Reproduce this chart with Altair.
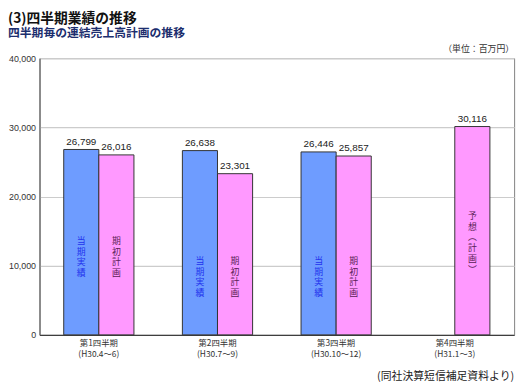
import altair as alt
import pandas as pd

# ---- data ----
quarters = ["第1四半期|(H30.4～6)", "第2四半期|(H30.7～9)",
            "第3四半期|(H30.10～12)", "第4四半期|(H31.1～3)"]
series = ["当期実績", "期初計画"]
actual = [26799, 26638, 26446, None]
plan = [26016, 23301, 25857, 30116]
actual_names = ["当期実績", "当期実績", "当期実績", None]
plan_names = ["期初計画", "期初計画", "期初計画", "予想︵計画︶"]
name_anchor = [13600, 10700, 10700, 17200]   # where the vertical bar captions sit (value units)
y_ticks = [0, 10000, 20000, 30000, 40000]

title1 = "(3)四半期業績の推移"
title2 = "四半期毎の連結売上高計画の推移"
unit_note = "（単位：百万円）"
source_note = "(同社決算短信補足資料より)"

rows = []
for i, q in enumerate(quarters):
    for s, vals, names in ((series[0], actual, actual_names), (series[1], plan, plan_names)):
        if vals[i] is None:
            continue
        rows.append({"q": q, "s": s, "v": vals[i],
                     "name": "\n".join(names[i]), "at": name_anchor[i]})
df = pd.DataFrame(rows)

JP = "Noto Sans CJK JP"
NUM = "Liberation Sans"
W, H = 482, 281

x_enc = alt.X("q:N", sort=quarters,
              scale=alt.Scale(paddingInner=0, paddingOuter=0),
              axis=alt.Axis(title=None, labelExpr="split(datum.label, '|')",
                            labelAngle=0, labelFont=JP, labelFontSize=8.5,
                            labelColor="#333333", labelLineHeight=10.5,
                            labelPadding=4, ticks=False, domainColor="#222222",
                            domainWidth=1, grid=False))
xoff = alt.XOffset("s:N", sort=series,
                   scale=alt.Scale(paddingInner=0, paddingOuter=0.69))
y_scale = alt.Scale(domain=[0, 40000])

base = alt.Chart(df)

bars = base.mark_bar(stroke="#333333", strokeWidth=1).encode(
    x=x_enc, xOffset=xoff,
    y=alt.Y("v:Q", scale=y_scale,
            axis=alt.Axis(title=None, values=y_ticks, format=",.0f",
                          labelFont=NUM, labelFontSize=9, labelColor="#333333",
                          labelPadding=4, ticks=False, domainColor="#555555",
                          gridColor="#cccccc", gridWidth=1.2)),
    color=alt.Color("s:N", scale=alt.Scale(domain=series, range=["#6E9CFF", "#FF99FF"]),
                    legend=None),
)

values = base.mark_text(baseline="bottom", dy=-3, font=NUM, fontSize=10,
                        color="#222222").encode(
    x=alt.X("q:N", sort=quarters), xOffset=xoff,
    y=alt.Y("v:Q", scale=y_scale),
    text=alt.Text("v:Q", format=",.0f"),
)

cap_actual = base.transform_filter(alt.datum.s == series[0]).mark_text(
    lineBreak="\n", lineHeight=11, font=JP, fontSize=9, color="#2233EE",
    baseline="middle").encode(
    x=alt.X("q:N", sort=quarters), xOffset=xoff,
    y=alt.Y("at:Q", scale=y_scale), text="name:N")

cap_plan = base.transform_filter(alt.datum.s == series[1]).mark_text(
    lineBreak="\n", lineHeight=11, font=JP, fontSize=9, color="#5A1E55",
    baseline="middle").encode(
    x=alt.X("q:N", sort=quarters), xOffset=xoff,
    y=alt.Y("at:Q", scale=y_scale), text="name:N")

one = pd.DataFrame({"k": [0]})
t1 = alt.Chart(one).mark_text(text=title1, font=JP, fontSize=14, fontWeight="bold",
                              color="#111111", align="left", baseline="middle").encode(
    x=alt.value(-32), y=alt.value(-40))
t2 = alt.Chart(one).mark_text(text=title2, font=JP, fontSize=12, fontWeight="bold",
                              color="#1C2E6E", align="left", baseline="middle").encode(
    x=alt.value(-32), y=alt.value(-25))
t3 = alt.Chart(one).mark_text(text=unit_note, font=JP, fontSize=9,
                              color="#333333", align="right", baseline="middle").encode(
    x=alt.value(W), y=alt.value(-9))
t4 = alt.Chart(one).mark_text(text=source_note, font=JP, fontSize=11,
                              color="#222222", align="right", baseline="middle").encode(
    x=alt.value(W), y=alt.value(324))

chart = alt.layer(bars, values, cap_actual, cap_plan, t1, t2, t3, t4).properties(
    width=W, height=H,
    padding={"left": 32, "top": 48, "right": 8, "bottom": 50},
    autosize=alt.AutoSizeParams(type="none"),
    background="white",
).configure_view(stroke="#808080", strokeWidth=1)

chart.save("out.html", embed_options={"renderer": "svg", "actions": False})
